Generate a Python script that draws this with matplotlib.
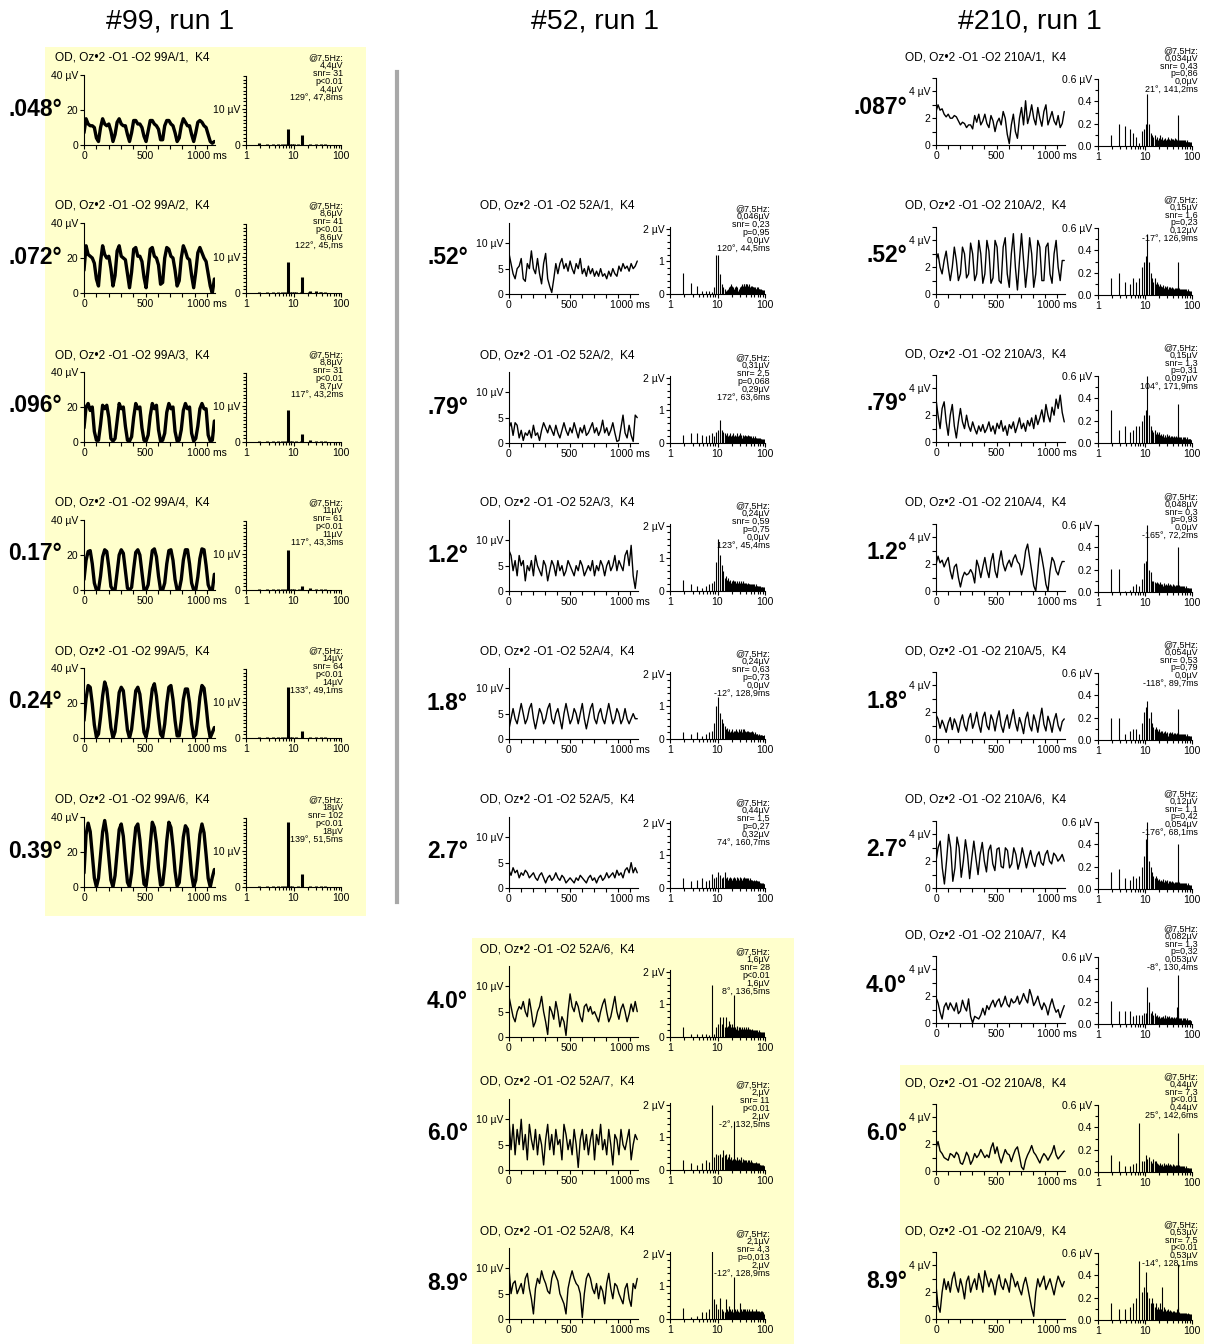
import numpy as np
import matplotlib
matplotlib.use("Agg")
import matplotlib.pyplot as plt
from matplotlib.patches import Rectangle
from matplotlib.ticker import MultipleLocator, FixedLocator, NullFormatter, LogLocator

plt.rcParams['font.family'] = ['Liberation Sans', 'DejaVu Sans']

# ---------------- DATA ----------------
headers = ["#99, run 1", "#52, run 1", "#210, run 1"]

# --- subject #99 ---
ids_99 = ["99A/1", "99A/2", "99A/3", "99A/4", "99A/5", "99A/6"]
ecc_99 = [".048°", ".072°", ".096°", "0.17°", "0.24°", "0.39°"]
amp_99 = ["4,4µV", "8,6µV", "8,8µV", "11µV", "14µV", "18µV"]
snr_99 = ["31", "41", "31", "61", "64", "102"]
p_99 = ["p<0.01", "p<0.01", "p<0.01", "p<0.01", "p<0.01", "p<0.01"]
sig_99 = ["4,4µV", "8,6µV", "8,7µV", "11µV", "14µV", "18µV"]
phase_99 = ["129°, 47,8ms", "122°, 45,ms", "117°, 43,2ms", "117°, 43,3ms", "133°, 49,1ms", "139°, 51,5ms"]

tr_99A1 = [7,15,12,11,11,10,4,2, 10,15,12,11,12,8,2,6, 13,15,12,11,11,6,2,7, 14,14,12,12,10,5,2,8,
           14,14,12,11,9,3,3,11, 14,14,12,11,7,2,4,11, 15,13,11,11,6,2,7,13, 14,13,11,10,6,2,1,2]
tr_99A2 = [13,27,22,21,20,17,8,4, 18,27,22,20,21,14,4,10, 24,27,21,20,19,11,3,12, 25,26,21,21,18,9,3,14,
           25,26,21,20,16,5,6,20, 26,25,21,20,13,4,7,20, 27,24,20,19,10,3,12,23, 26,23,20,18,11,4,0,8]
tr_99A3 = [8,20,22,18,20,6,1,1, 10,21,19,21,14,2,0.5,2, 12,22,19,20,9,1,0.5,3, 14,22,19,20,8,1,0.5,4,
           15,22,19,21,7,0.5,1,5, 17,22,19,20,6,0.5,1,7, 18,22,19,20,5,0.5,2,9, 19,22,19,19,4,0.5,1,12]
tr_99A4 = [6,17,22,22.5,15,4,0,0, 8,19,23,22,13,2,0,0.2, 10,20,23,21,11,1,0,1.5, 12,21.5,23,20,10,0,0,3,
           13,22.5,23.5,19,8,0,0,4, 15,22.5,23,17,6,0,0,6, 17,23,23,15,4,0,0,7.5, 18,23.5,23,14,3,0,0,9]
tr_99A5 = [10,22.5,30,29,19.5,7.5,0.5,2.3, 12,24,32,28,17.5,6,0,3.6, 14,26,29,27,16,4.5,0,5, 16,27,29,25,14,3.3,0.5,6.4,
           18,28,31,24,12,2.2,0.5,8, 20,29,30,22,10,1.2,1.2,10, 22,28,28,20,8,0.6,2,11.6, 23.5,30,28.5,18.5,6.7,0.2,3,6]
tr_99A6 = [8,30,36.5,31.7,18.6,5.2,0,5, 18.4,31.5,38,30.4,17,4,0,6.5, 20,32.8,36,29,15,2.7,0,8, 22,34,36,27,13,1.7,0.5,10,
           24,37,34,25,11,1,1.5,12, 26.5,37,34,23,9,0.5,2.5,14.5, 28.5,35,33,20.5,7,0,4,16.5, 30,36,31,18.5,5,0,5.5,10]

sp_99A1 = [.5,.2,.2,.3,.2,.2,4.4,.2,.2,.2,.1,.2,.1,.1,2.7,.1,.1,.1,.1,.1,.1,.1,.4,.1,.1,.1,
           .1,.1,.1,.1,.3,.1,.1,.1,.1,.1,.1,.1,.2,.1,.1,.1,.1,.1,.1,.1,.2,.1,.1,.1,.1,.1]
sp_99A2 = [.3,.4,.3,.3,.2,.3,8.6,.2,.2,.2,.2,.1,.1,.2,4.3,.1,.1,.1,.1,.1,.1,.2,.5,.1,.1,.1,
           .1,.1,.1,.1,.5,.1,.1,.1,.1,.1,.1,.2,.3,.1,.1,.1,.1,.1,.1,.1,.3,.1,.1,.1,.1,.1]
sp_99A3 = [.3,.2,.3,.2,.2,.3,8.8,.2,.2,.1,.2,.1,.1,.2,2.2,.1,.1,.1,.1,.1,.1,.1,.6,.1,.1,.1,
           .1,.1,.1,.1,.4,.1,.1,.1,.1,.1,.1,.1,.3,.1,.1,.1,.1,.1,.1,.1,.2,.1,.1,.1,.1,.1]
sp_99A4 = [.2,.3,.2,.2,.3,.2,11,.2,.2,.2,.1,.1,.2,.1,1.2,.1,.1,.1,.1,.1,.1,.1,.5,.1,.1,.1,
           .1,.1,.1,.1,.3,.1,.1,.1,.1,.1,.1,.1,.3,.1,.1,.1,.1,.1,.1,.1,.2,.1,.1,.1,.1,.1]
sp_99A5 = [.2,.2,.4,.2,.2,.3,14,.2,.2,.1,.2,.1,.1,.1,2.0,.1,.1,.1,.1,.1,.1,.1,.3,.1,.1,.1,
           .1,.1,.1,.1,.4,.1,.1,.1,.1,.1,.1,.1,.3,.1,.1,.1,.1,.1,.1,.1,.2,.1,.1,.1,.1,.1]
sp_99A6 = [.3,.2,.2,.3,.3,.2,18,.2,.2,.1,.1,.2,.1,.1,3.5,.1,.1,.1,.1,.1,.1,.1,.3,.1,.1,.1,
           .1,.1,.1,.1,.4,.1,.1,.1,.1,.1,.1,.1,.3,.1,.1,.1,.1,.1,.1,.1,.2,.1,.1,.1,.1,.1]

# --- subject #52 ---
ids_52 = ["52A/1", "52A/2", "52A/3", "52A/4", "52A/5", "52A/6", "52A/7", "52A/8"]
ecc_52 = [".52°", ".79°", "1.2°", "1.8°", "2.7°", "4.0°", "6.0°", "8.9°"]
amp_52 = ["0,046µV", "0,31µV", "0,24µV", "0,24µV", "0,44µV", "1,6µV", "2,µV", "2,1µV"]
snr_52 = ["0,23", "2,5", "0,59", "0,63", "1,5", "28", "11", "4,3"]
p_52 = ["p=0,95", "p=0,068", "p=0,75", "p=0,73", "p=0,27", "p<0.01", "p<0.01", "p=0,013"]
sig_52 = ["0,0µV", "0,29µV", "0,0µV", "0,0µV", "0,32µV", "1,6µV", "2,µV", "2,µV"]
phase_52 = ["120°, 44,5ms", "172°, 63,6ms", "123°, 45,4ms", "-12°, 128,9ms", "74°, 160,7ms",
            "8°, 136,5ms", "-2°, 132,5ms", "-12°, 128,9ms"]

tr_52A1 = [8,6,4,3,5,5.5,7,3,2.5,6,5,8.5,5,4,7,4,2,6,8,3,1.5,0.3,3,6,4,6,7,5,6,4.5,6.5,5,
           4,6,5,7,4,5,3.5,5.5,4,5,3.5,4.5,3.5,5,3.5,4,3,4.5,3.5,5,4,3.5,5.5,4.5,6,5,5.5,4.5,6,5,5.5,6.5]
tr_52A2 = [3,4,1.5,4,3.5,1,2.5,0.5,2,1.5,2.5,1,3.5,1.5,2,0.5,2.5,4,3,2,3.5,2.5,1.5,3.5,2,1,2.5,4,2.5,1.5,3,2,
           4,2.5,1,3,2,3.5,1.5,2,3,4,2,3,1.5,2.5,4.5,2,3,1.5,2.5,4,2,0.3,0.5,3,5.5,2,1,3.5,1.5,0.3,5.5,5]
tr_52A3 = [8,7,4,6,3,7,5,6,2,5,4,6,3,7,5,4,3,6,5,2,4,6,5,3,6,4,5,3,4,6,5,4,
           3,5,4,6,5,3,4,5,4,6,3,5,4,6,5,3,5,6,4,5,7,4,6,5,4,7,8,5,9,3,0.5,4]
tr_52A4 = [2,4,6,4,3, 5,7,5,3,4, 6,7,4,2,4, 6,5,3,4,6, 7,4,3,5,6, 4,2,5,7,5, 3,4,6,5,3,
           5,7,4,2,4, 6,7,4,3,5, 6,4,3,5,7, 5,3,4,6,5, 3,4,6,4,3, 4,5,4,4]
tr_52A5 = [3.5,2.5,4,3,3.5,2,3,2.5,3.5,3,2,2.5,3,2,1.5,2.5,3,2,1,2,2.5,1.5,2,3,2,1.5,2.5,2,1,1.5,2,1.5,
           1,2,1.5,2.5,2,1.5,1,2,2.5,1.5,2,1,2,2.5,1.5,2,3,2,2.5,3,2,3.5,2.5,3,2,3.5,4,3,5,3,4,3]
tr_52A6 = [8,6,4,3,5,6,5.5,7,5,4,7.5,5,2,3,5,6,8,5,3,0.5,6,5,3.5,7,5,2,4,3,0.3,5,8.5,6,
           5,7,6,4,3,6,6.5,5,6,4.5,5,4,3,5,6.5,7.5,5,3,4,6,8,5,3.5,5.5,6.5,5,3,4.5,6.5,5,7,5]
tr_52A7 = [10,4,9,3,8,5,10,4,7,2,9,6,4,8,3,7,5,1,6,9,4,7,3,8,5,6,2,9,7,4,6,3,
           8,5,0.5,6,8,4,7,3,6,8,2,7,5,9,4,6,3,8,5,1,7,6,3,8,5,4,6,8,2,5,7,6]
tr_52A8 = [10,5,7,7.5,5,6,7,5,8,9,6,4,1,6,8,7,9.5,8,7,5.5,5,8,9.5,8.5,7.5,5,4,3,1,6,8,9.5,
           8,7,6.5,5,0.3,5,8,9,8,6,5,7,4,6.5,5.5,3,7,9,6,4,7,6.5,5,4,3,6,7,4,2.5,7,6,8]

sp_52A1 = [.65,.35,.25,.1,.08,.1,.05,.2,1.2,1.2,.6,.3,.2,.15,.1,.12,.15,.2,.25,.3,.25,.2,.15,
           .2,.25,.15,.2,.1,.15,.2,.15,.25,.2,.3,.25,.2,.3,.3,.25,.2,.3,
           .3,.25,.3,.2,.25,.3,.2,.25,.2,.15,.25,.2,.15,.2,.25,.15,.2,.15,.2,.15,
           .15,.2,.1,.15,.2,.15,.1,.15,.2,.1,.15,.1,.15,.2,.1,.15,.1,.15,.1,.12,
           .1,.15,.1,.12,.1,.15,.1,.08,.12,.1,.1,.12,.08,.1,.12,.08,.1,.1,.08,.1,.12,.08,.1,.08]
sp_52A2 = [.25,.3,.3,.25,.2,.25,.3,.2,.35,.4,.7,.4,.35,.3,.25,.3,.2,.25,.3,.2,.25,.3,.2,
           .25,.2,.3,.15,.2,.25,.2,.3,.2,.25,.15,.2,.25,.2,.15,.2,.25,.2,
           .2,.15,.2,.25,.15,.2,.15,.2,.15,.2,.1,.15,.2,.15,.1,.15,.2,.15,.1,.15,
           .15,.1,.15,.2,.1,.15,.1,.15,.1,.15,.1,.12,.15,.1,.12,.1,.15,.1,.12,.1,
           .12,.1,.15,.1,.08,.12,.1,.12,.08,.1,.12,.1,.08,.1,.12,.1,.08,.1,.1,.08,.12,.1,.08,.1]
sp_52A3 = [.35,.2,.15,.1,.15,.2,.24,.3,.9,1.6,1.1,.8,.6,.4,.45,.35,.4,.3,.35,.25,.3,.35,.3,
           .3,.25,.3,.2,.25,.3,.2,.25,.3,.2,.25,.2,.3,.25,.2,.25,.2,.2,
           .25,.2,.15,.2,.25,.15,.2,.2,.15,.2,.15,.2,.15,.15,.2,.1,.15,.2,.15,.1,
           .15,.2,.1,.15,.1,.15,.2,.1,.15,.1,.12,.15,.1,.12,.15,.1,.12,.1,.15,.1,
           .1,.12,.15,.1,.1,.12,.08,.1,.12,.1,.08,.12,.1,.1,.08,.12,.1,.08,.1,.12,.08,.1,.1,.08]
sp_52A4 = [.2,.15,.2,.1,.15,.2,.24,.5,1.0,1.3,.8,.6,.5,.4,.3,.35,.25,.3,.2,.25,.3,.2,.25,
           .25,.3,.2,.25,.2,.3,.25,.2,.3,.25,.2,.3,.2,.25,.3,.2,.25,.2,
           .2,.25,.2,.15,.25,.2,.15,.2,.2,.15,.2,.15,.2,.25,.15,.2,.15,.1,.2,.15,
           .1,.15,.2,.1,.15,.1,.15,.12,.1,.15,.1,.15,.1,.12,.1,.15,.1,.12,.1,.1,
           .12,.1,.08,.12,.1,.1,.08,.12,.1,.08,.1,.12,.1,.08,.1,.1,.08,.12,.1,.08,.1,.08,.1,.08]
sp_52A5 = [.3,.2,.25,.3,.2,.25,.44,.3,.35,.5,.4,.3,.35,.5,.3,.35,.25,.3,.35,.3,.25,.3,.35,
           .3,.25,.35,.2,.3,.25,.3,.35,.2,.3,.25,.3,.2,.35,.25,.3,.2,.3,
           .25,.3,.2,.25,.3,.2,.25,.2,.3,.2,.25,.2,.25,.15,.2,.25,.2,.15,.2,.25,
           .2,.15,.2,.15,.2,.25,.15,.2,.15,.2,.15,.2,.1,.15,.2,.15,.1,.15,.2,.1,
           .15,.1,.15,.12,.1,.15,.1,.12,.15,.1,.12,.1,.15,.1,.12,.1,.1,.12,.1,.08,.1,.12,.08,.1]
sp_52A6 = [.3,.1,.1,.1,.1,.05,1.6,.1,.3,.4,.6,.4,.6,.3,.6,.3,.35,.5,.4,.3,.4,.3,1.3,
           .3,.25,.3,.35,.2,.3,.25,.3,.2,.25,.3,.2,.25,.3,.2,.25,.2,.3,
           .2,.25,.2,.3,.15,.2,.25,.2,.15,.25,.2,.15,.2,.25,.15,.2,.15,.2,.1,.15,
           .2,.15,.1,.15,.2,.1,.15,.2,.1,.15,.1,.2,.15,.1,.15,.1,.15,.2,.1,.15,
           .1,.15,.1,.12,.15,.1,.12,.1,.15,.1,.12,.1,.08,.12,.15,.1,.08,.12,.1,.1,.15,.1,.08,.1]
sp_52A7 = [.3,.2,.15,.2,.3,.25,2.0,.4,.5,.45,.5,.4,.6,.45,.5,.35,.4,.5,.35,.4,.3,.35,1.5,
           .35,.3,.4,.25,.3,.35,.3,.25,.4,.3,.25,.3,.35,.25,.3,.2,.3,.25,
           .3,.25,.2,.3,.25,.2,.3,.2,.25,.2,.3,.2,.25,.2,.15,.25,.2,.2,.15,.2,
           .2,.15,.2,.15,.2,.25,.15,.2,.15,.2,.1,.15,.2,.15,.1,.2,.15,.1,.15,.1,
           .15,.1,.15,.12,.1,.15,.12,.1,.15,.1,.12,.1,.15,.1,.12,.1,.08,.12,.1,.1,.12,.08,.1,.1]
sp_52A8 = [.35,.05,.1,.2,.2,.3,2.1,.6,.45,.3,.65,.3,.25,.2,.6,.3,.25,.4,.3,.25,.3,.2,1.3,
           .3,.25,.2,.3,.25,.2,.25,.5,.3,.2,.25,.3,.2,.3,.25,.2,.3,.25,
           .2,.3,.25,.2,.25,.2,.3,.2,.25,.2,.15,.25,.2,.3,.15,.2,.25,.2,.15,.2,
           .25,.2,.15,.2,.25,.15,.2,.3,.15,.2,.25,.15,.2,.25,.15,.2,.15,.2,.25,.15,
           .2,.15,.2,.25,.15,.2,.15,.2,.25,.15,.2,.15,.12,.2,.15,.1,.15,.12,.1,.15,.1,.12,.1,.1]

# --- subject #210 ---
ids_210 = ["210A/1", "210A/2", "210A/3", "210A/4", "210A/5", "210A/6", "210A/7", "210A/8", "210A/9"]
ecc_210 = [".087°", ".52°", ".79°", "1.2°", "1.8°", "2.7°", "4.0°", "6.0°", "8.9°"]
amp_210 = ["0,034µV", "0,15µV", "0,15µV", "0,048µV", "0,054µV", "0,12µV", "0,082µV", "0,44µV", "0,53µV"]
snr_210 = ["0,43", "1,6", "1,3", "0,3", "0,53", "1,1", "1,3", "7,3", "7,5"]
p_210 = ["p=0,86", "p=0,23", "p=0,31", "p=0,93", "p=0,79", "p=0,42", "p=0,32", "p<0.01", "p<0.01"]
sig_210 = ["0,0µV", "0,12µV", "0,097µV", "0,0µV", "0,0µV", "0,054µV", "0,053µV", "0,44µV", "0,53µV"]
phase_210 = ["21°, 141,2ms", "-17°, 126,9ms", "104°, 171,9ms", "-165°, 72,2ms", "-118°, 89,7ms",
             "-176°, 68,1ms", "-8°, 130,4ms", "25°, 142,6ms", "-14°, 128,1ms"]

tr_210A1 = [2.5,3,2.6,2.7,2.3,2.1,2.3,2.0,2.0,2.2,2.1,1.8,1.5,1.7,1.6,1.3,1.5,1.5,1.2,2.2,1.7,2.3,1.5,1.8,2.3,1.6,1.3,2.2,1.8,1.0,1.7,2.0,
            1.5,2.5,2.0,0.8,0.1,1.5,2.3,1.0,0.5,2.0,2.8,1.5,3.3,1.6,2.2,3.0,2.0,1.5,2.8,2.0,1.4,2.5,3.0,1.5,2.0,2.5,1.8,1.5,2.2,1.3,1.6,2.5]
tr_210A2 = [2.5,3,2,1.5,2.5, 3.2,2,1,2, 3.5,2.5,1,1.5, 3.5,3,1.2,1.5,3.8, 3,1,1.5,4,3,0.8,
            1.5,4,3.2,0.8,1.2, 4,3.5,1,0.8,3.5, 4.2,1.5,0.5,3,4.5, 2,0.3,2.5,4.5, 2.5,0.5,2,4.2,
            3,0.5,1.5,4, 3.5,1,1,3.5, 3.8,1.5,0.8,3, 4,2,1,2.5,2.5]
tr_210A3 = [3.2,2,1,2.5,3,1.5,0.5,2,2.8,1.2,0.3,1.5,2.5,1.5,1,2,1.2,0.8,1.5,1,0.6,1.2,0.8,1.3,0.7,1,1.5,0.8,1.2,0.6,1.4,1,
            1.6,0.8,1.2,0.5,1.3,1,1.5,0.7,1.2,1.8,1,1.4,0.8,1.6,1.2,1.8,1,2,1.3,1.8,2.4,1.5,2.8,2,1.5,2.6,2,3.2,2.5,3.5,2.2,1.5]
tr_210A4 = [2,2.6,2.1,2.3,1.8,2.2,2.5,1.5,0.9,1.8,2,1,0.3,1,1.4,1.2,1.3,1.6,1.3,0.6,2.3,1.8,1,1.8,2.5,1.6,1,2.2,2.8,1.5,1,2.2,
            3,2,1.5,2,2.3,1.8,2.4,2.7,2.2,2,1.2,1.8,3,3.5,2.5,1.5,0.4,0,1.5,3.2,2.5,1.6,0.5,0,1.5,2.5,2.2,1.5,1.2,1.8,2.2,2.2]
tr_210A5 = [1.8,1.5,0.8,1.4,1,0.5,1.2,1.6,0.7,1.5,1.1,0.5,1.3,1.8,1,0.6,1.5,1.9,0.8,1.3,2,1.1,0.5,1.6,2,1,0.7,1.8,1.4,0.6,1.5,2.1,
            1,0.5,1.3,1.8,0.8,1.5,2.2,1.2,0.6,1.6,1.1,0.4,1.5,2,1,0.6,1.8,1.3,0.5,1.5,2.3,1.1,0.6,1.7,1.2,0.5,1.4,1.9,1,0.6,1.3,1.5]
tr_210A6 = [2,3,3.5,1.5,0.3, 2,4,3,0.5, 1.5,3.8,3,0.8, 2,3.6,2.5,0.7, 2.2,3.5,2.2,1, 2.5,3.4,2,1.2,
            2.8,3.2,1.8,1.3, 2.9,3,1.6,1.5, 3,2.8,1.5,1.8, 3,2.5,1.4,2, 3,2.3,1.5,2.2, 2.8,2,1.6,2.4,
            2.7,1.9,1.7,2.5, 2.8,2,1.8,2.6, 2.4,2,2.2,2.5,2]
tr_210A7 = [1.9,1.5,0.8,0.3,1.2,1.5,1,1.5,1.2,0.9,1.5,0.7,0.9,1.7,1.2,0.9,1.8,0.5,0,0.5,0.4,0.3,0.6,1.1,0.6,1.3,1,1.4,1.7,1.2,1.6,1.8,
            1.2,1.5,2,1.4,1.2,1.8,1.5,1.6,2,1.4,1.7,2.2,1.8,1.5,2.5,2,1.3,1.6,2,1.4,1,1.5,1.2,0.6,1.3,1.8,1.2,0.8,1,0.4,0.9,1.3]
tr_210A8 = [1.7,2.2,1.5,1.3,1,0.9,0.8,1.3,1.2,1,1.4,1.2,0.6,0.5,0.9,1.4,1.1,0.5,0.8,1.3,1,1.2,1.6,1.3,1,1.2,1,1.7,2.1,1.3,1.8,1.1,
            0.6,1.1,1.6,1.3,1.2,0.7,1.2,1.6,1.8,1.1,0.3,0.1,0.8,1.2,1.5,1.9,1.4,1.2,0.9,0.6,1,1.3,1.1,0.8,1.1,1.4,1.9,1.2,0.9,1.1,1.3,1.5]
tr_210A9 = [2.5,1,0.5,2,3,2.2,2.8,2,3,3.5,2.5,2,3,2.4,1.5,2.8,3.2,2,2.6,3,2.2,3.4,2.8,2,3.6,3,2.4,3,2.6,1.8,2.8,3.3,
            2.5,2.2,3,2.6,2,3.4,3,2.4,2.8,2.2,1.8,2.6,3.1,2.4,1.6,0.8,0.2,2,3,2.4,2.8,3.2,2.2,2.6,3,2.4,1.8,2.6,3.2,2.8,2.4,2.8]

sp_210A1 = [.1,.2,.18,.15,.12,.08,.03,.13,.15,.2,.47,.2,.12,.1,.08,.1,.06,.08,.05,.07,.1,.06,.05,
            .08,.05,.06,.04,.07,.05,.06,.04,.08,.05,.06,.05,.04,.07,.05,.06,.04,.05,.06,.04,.05,.07,.04,.05,.06,.04,.05,.04,
            .28,
            .06,.04,.05,.03,.05,.04,.03,.05,.04,.03,.05,.04,.03,.04,.05,.03,.04,.03,.05,.04,.03,.04,.03,.05,.04,.03,.04,
            .03,.04,.03,.05,.03,.04,.03,.04,.03,.02,.04,.03,.04,.03,.02,.04,.03,.02,.03,.04,.02,.03,.02,.03,.04,.02]
sp_210A2 = [.15,.2,.12,.1,.15,.12,.15,.25,.3,.35,.55,.3,.2,.15,.12,.15,.1,.12,.1,.08,.1,.08,.07,
            .07,.09,.06,.08,.05,.07,.06,.08,.05,.07,.06,.05,.07,.04,.06,.05,.07,.04,.06,.05,.04,.06,.05,.04,.06,.05,.04,.06,
            .3,
            .08,.05,.04,.06,.03,.05,.04,.05,.03,.04,.05,.03,.04,.05,.03,.04,.03,.05,.04,.03,.04,.05,.03,.04,.03,.04,.05,
            .03,.04,.03,.04,.03,.05,.03,.04,.03,.02,.04,.03,.04,.03,.02,.04,.03,.02,.03,.04,.02,.03,.02,.03,.02,.03]
sp_210A3 = [.3,.12,.15,.1,.12,.15,.15,.2,.25,.3,.6,.25,.15,.12,.1,.12,.08,.1,.08,.1,.07,.08,.06,
            .06,.08,.05,.07,.06,.05,.08,.04,.06,.05,.07,.05,.04,.06,.05,.04,.06,.05,.04,.05,.06,.04,.05,.04,.06,.04,.05,.04,
            .35,
            .07,.05,.04,.05,.03,.04,.05,.03,.04,.05,.03,.04,.03,.05,.04,.03,.04,.05,.03,.04,.03,.04,.03,.05,.04,.03,.04,
            .03,.04,.05,.03,.04,.03,.04,.03,.02,.04,.03,.04,.02,.03,.04,.03,.02,.03,.04,.02,.03,.02,.03,.02,.03,.02]
sp_210A4 = [.21,.21,.01,.02,.05,.07,.05,.12,.26,.28,.6,.2,.18,.1,.1,.09,.08,.09,.08,.07,.09,.07,.06,
            .07,.05,.08,.06,.04,.07,.05,.06,.08,.04,.06,.05,.07,.04,.06,.05,.04,.07,.05,.04,.06,.05,.04,.06,.05,.04,.05,.06,
            .4,
            .1,.05,.04,.06,.04,.05,.03,.05,.04,.03,.05,.04,.03,.04,.05,.03,.04,.03,.04,.05,.03,.04,.03,.04,.03,.05,.04,
            .03,.04,.03,.04,.02,.03,.04,.03,.04,.03,.02,.04,.03,.02,.03,.04,.02,.03,.02,.03,.02,.03,.04,.02,.03,.02]
sp_210A5 = [.2,.2,.05,.08,.1,.1,.05,.15,.25,.3,.35,.2,.25,.15,.12,.1,.12,.1,.08,.1,.07,.08,.06,
            .08,.06,.07,.05,.08,.06,.05,.07,.04,.06,.05,.07,.05,.04,.06,.05,.07,.04,.05,.06,.04,.05,.06,.04,.05,.04,.06,.05,
            .28,
            .07,.04,.05,.03,.05,.04,.03,.05,.04,.03,.05,.04,.03,.04,.05,.03,.04,.03,.05,.04,.03,.04,.03,.05,.04,.03,.04,
            .03,.04,.03,.05,.03,.04,.03,.04,.03,.02,.04,.03,.04,.03,.02,.04,.03,.02,.03,.04,.02,.03,.02,.03,.04,.02]
sp_210A6 = [.15,.18,.1,.08,.12,.1,.12,.2,.3,.45,.6,.25,.2,.15,.12,.1,.12,.1,.08,.09,.07,.08,.06,
            .07,.09,.06,.08,.05,.07,.06,.08,.05,.07,.06,.05,.07,.04,.06,.05,.07,.04,.06,.05,.04,.06,.05,.04,.06,.05,.04,.06,
            .4,
            .08,.05,.04,.06,.03,.05,.04,.05,.03,.04,.05,.03,.04,.05,.03,.04,.03,.05,.04,.03,.04,.05,.03,.04,.03,.04,.05,
            .03,.04,.03,.04,.03,.05,.03,.04,.03,.02,.04,.03,.04,.03,.02,.04,.03,.02,.03,.04,.02,.03,.02,.03,.02,.03]
sp_210A7 = [.21,.12,.12,.12,.07,.08,.08,.08,.1,.1,.33,.2,.1,.12,.08,.1,.07,.08,.06,.07,.05,.06,.05,
            .06,.07,.05,.08,.06,.05,.07,.04,.06,.05,.07,.05,.04,.06,.05,.04,.06,.05,.04,.05,.06,.04,.05,.04,.06,.04,.05,.15,
            .44,
            .12,.05,.04,.05,.03,.04,.05,.03,.04,.05,.03,.04,.03,.05,.04,.03,.04,.05,.03,.04,.03,.04,.03,.05,.04,.03,.04,
            .03,.04,.05,.03,.04,.03,.04,.03,.02,.04,.03,.04,.02,.03,.04,.03,.02,.03,.04,.02,.03,.02,.03,.02,.03,.02]
sp_210A8 = [.15,.1,.05,.05,.07,.08,.44,.1,.1,.15,.12,.13,.1,.08,.12,.1,.1,.08,.07,.06,.08,.06,.05,
            .07,.05,.08,.06,.04,.07,.05,.06,.08,.04,.06,.05,.07,.04,.06,.05,.04,.07,.05,.04,.06,.05,.04,.06,.05,.04,.05,.06,
            .35,
            .1,.05,.04,.06,.04,.05,.03,.05,.04,.03,.05,.04,.03,.04,.05,.03,.04,.03,.04,.05,.03,.04,.03,.04,.03,.05,.04,
            .03,.04,.03,.04,.02,.03,.04,.03,.04,.03,.02,.04,.03,.02,.03,.04,.02,.03,.02,.03,.02,.03,.04,.02,.03,.02]
sp_210A9 = [.15,.1,.1,.12,.15,.2,.53,.25,.3,.43,.25,.2,.15,.2,.15,.12,.15,.1,.12,.1,.15,.1,.3,
            .1,.08,.12,.07,.1,.08,.09,.07,.1,.06,.08,.07,.09,.06,.08,.07,.06,.08,.07,.06,.08,.06,.07,.05,.07,.06,.05,.1,
            .5,
            .12,.06,.05,.07,.04,.06,.05,.06,.04,.05,.06,.04,.05,.06,.04,.05,.04,.06,.05,.04,.05,.06,.04,.05,.04,.05,.06,
            .04,.05,.04,.05,.04,.06,.04,.05,.04,.03,.05,.04,.05,.04,.03,.05,.04,.03,.04,.05,.03,.04,.03,.04,.03,.04]

traces_99 = [tr_99A1, tr_99A2, tr_99A3, tr_99A4, tr_99A5, tr_99A6]
specs_99 = [sp_99A1, sp_99A2, sp_99A3, sp_99A4, sp_99A5, sp_99A6]
traces_52 = [tr_52A1, tr_52A2, tr_52A3, tr_52A4, tr_52A5, tr_52A6, tr_52A7, tr_52A8]
specs_52 = [sp_52A1, sp_52A2, sp_52A3, sp_52A4, sp_52A5, sp_52A6, sp_52A7, sp_52A8]
traces_210 = [tr_210A1, tr_210A2, tr_210A3, tr_210A4, tr_210A5, tr_210A6, tr_210A7, tr_210A8, tr_210A9]
specs_210 = [sp_210A1, sp_210A2, sp_210A3, sp_210A4, sp_210A5, sp_210A6, sp_210A7, sp_210A8, sp_210A9]

# ---------------- LAYOUT ----------------
W, H = 1209, 1344
fig = plt.figure(figsize=(W / 100, H / 100), dpi=100)
fig.patch.set_facecolor('white')

YEL = '#FFFFCC'
for (x0, y0, x1, y1) in [(45, 47, 366, 916), (472, 938, 794, 1344), (900, 1065, 1204, 1344)]:
    fig.add_artist(Rectangle((x0 / W, 1 - y1 / H), (x1 - x0) / W, (y1 - y0) / H,
                             transform=fig.transFigure, facecolor=YEL, edgecolor='none', zorder=-5))
fig.add_artist(plt.Line2D([397 / W, 397 / W], [1 - 72 / H, 1 - 902 / H], transform=fig.transFigure,
                          color='#a8a8a8', lw=3, zorder=-4))

for hx, txt in zip([170, 595, 1030], headers):
    fig.text(hx / W, 1 - 21 / H, txt, ha='center', va='center', fontsize=20.5)


def add_ax(x0, ytop, w, h):
    ax = fig.add_axes([x0 / W, 1 - (ytop + h) / H, w / W, h / H])
    ax.patch.set_alpha(0)
    for s in ['top', 'right']:
        ax.spines[s].set_visible(False)
    for s in ['left', 'bottom']:
        ax.spines[s].set_linewidth(0.8)
    return ax


cols = [
    dict(ids=ids_99, ecc=ecc_99, amp=amp_99, snr=snr_99, p=p_99, sig=sig_99, ph=phase_99,
         traces=traces_99, specs=specs_99,
         ty=[58, 206, 355, 503, 651, 800], title_x=55, ax_x=84, px_ms=0.123, sp_x=246, sp_w=95,
         t_top=17, t_bot=87, s_top=18, s_bot=87, ylim=40, yt=[0, 20, 40], ytl=['0', '20', '40 µV'], ymin=None,
         slim=19, st=[0, 10], stl=['0', '10 µV'], smin=1, lw=2.4, lab_x=62, lab_dy=51,
         txt_x=343, txt_dy=0, txt_sp=7.8, bar_lw=2.2),
    dict(ids=ids_52, ecc=ecc_52, amp=amp_52, snr=snr_52, p=p_52, sig=sig_52, ph=phase_52,
         traces=traces_52, specs=specs_52,
         ty=[206, 355, 503, 651, 800, 949, 1082, 1231], title_x=480, ax_x=509, px_ms=0.121, sp_x=670, sp_w=95,
         t_top=17, t_bot=88, s_top=21, s_bot=88, ylim=14, yt=[0, 5, 10], ytl=['0', '5', '10 µV'], ymin=None,
         slim=2.05, st=[0, 1, 2], stl=['0', '1', '2 µV'], smin=0.2, lw=1.0, lab_x=468, lab_dy=52,
         txt_x=770, txt_dy=3, txt_sp=7.8, bar_lw=0.8),
    dict(ids=ids_210, ecc=ecc_210, amp=amp_210, snr=snr_210, p=p_210, sig=sig_210, ph=phase_210,
         traces=traces_210, specs=specs_210,
         ty=[57, 206, 354, 503, 651, 800, 935, 1083, 1231], title_x=905, ax_x=936, px_ms=0.121, sp_x=1098, sp_w=94,
         t_top=21, t_bot=88, s_top=22, s_bot=89, ylim=5, yt=[0, 2, 4], ytl=['0', '2', '4 µV'], ymin=1,
         slim=0.6, st=[0, .2, .4, .6], stl=['0.0', '0.2', '0.4', '0.6 µV'], smin=0.1, lw=1.0, lab_x=907, lab_dy=50,
         txt_x=1198, txt_dy=-6, txt_sp=7.6, bar_lw=0.8),
]

TFS = 7.5
for c in cols:
    for i, ty in enumerate(c['ty']):
        fig.text(c['title_x'] / W, 1 - ty / H, "OD, Oz•2 -O1 -O2 " + c['ids'][i] + ",  K4",
                 ha='left', va='center', fontsize=8.6)
        fig.text(c['lab_x'] / W, 1 - (ty + c['lab_dy']) / H, c['ecc'][i], ha='right', va='center',
                 fontsize=16.5, fontweight='bold')
        lines = ["@7,5Hz:", c['amp'][i], "snr= " + c['snr'][i], c['p'][i], c['sig'][i], c['ph'][i]]
        for k, ln in enumerate(lines):
            fig.text(c['txt_x'] / W, 1 - (ty + c['txt_dy'] + k * c['txt_sp']) / H, ln,
                     ha='right', va='center', fontsize=6.4)

        # time-domain trace
        axt = add_ax(c['ax_x'], ty + c['t_top'], 1066 * c['px_ms'], c['t_bot'] - c['t_top'])
        tr = np.array(c['traces'][i], dtype=float)
        t = np.linspace(0, 1060, len(tr))
        axt.plot(t, tr, color='black', lw=c['lw'], solid_joinstyle='round', solid_capstyle='round')
        axt.set_xlim(0, 1066)
        axt.set_ylim(0, c['ylim'])
        axt.set_xticks([0, 500, 1000])
        axt.set_xticklabels(['0', '500', '1000 ms'])
        axt.xaxis.set_minor_locator(MultipleLocator(100))
        axt.set_yticks(c['yt'])
        axt.set_yticklabels(c['ytl'])
        if c['ymin']:
            axt.yaxis.set_minor_locator(MultipleLocator(c['ymin']))
        axt.tick_params(which='both', direction='out', width=0.8, labelsize=TFS, pad=1)
        axt.tick_params(which='major', length=3.2)
        axt.tick_params(which='minor', length=2.8)

        # spectrum
        axs = add_ax(c['sp_x'], ty + c['s_top'], c['sp_w'], c['s_bot'] - c['s_top'])
        sp = np.array(c['specs'][i], dtype=float)
        f = (np.arange(len(sp)) + 2) * 0.9375
        axs.vlines(f, 0, sp, colors='black', lw=c['bar_lw'])
        axs.set_xscale('log')
        axs.set_xlim(1, 100)
        axs.set_ylim(0, c['slim'])
        axs.xaxis.set_major_locator(FixedLocator([1, 10, 100]))
        axs.set_xticklabels(['1', '10', '100'])
        axs.xaxis.set_minor_locator(LogLocator(base=10, subs=np.arange(2, 10)))
        axs.xaxis.set_minor_formatter(NullFormatter())
        axs.set_yticks(c['st'])
        axs.set_yticklabels(c['stl'])
        axs.yaxis.set_minor_locator(MultipleLocator(c['smin']))
        axs.tick_params(which='both', direction='out', width=0.8, labelsize=TFS, pad=1)
        axs.tick_params(which='major', length=3.2)
        axs.tick_params(which='minor', length=2.5)

fig.savefig("out.png", dpi=100)
